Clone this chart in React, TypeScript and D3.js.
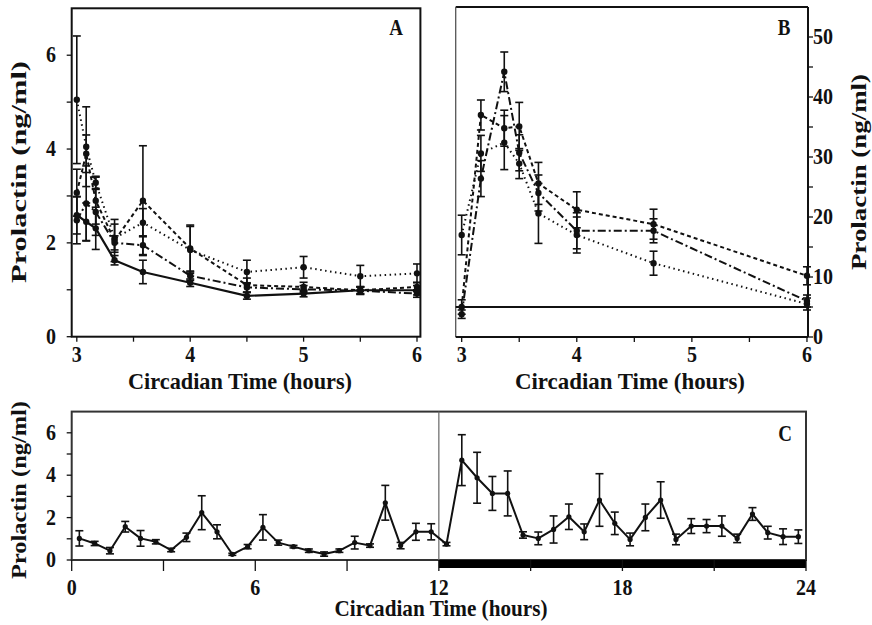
import React from "react";
import * as d3 from "d3";

// Panel A: early sampling (hours), four treatment groups
const hoursA = [3, 3.083, 3.167, 3.333, 3.583, 4, 4.5, 5, 5.5, 6];
const solidA = [2.59, 2.45, 2.31, 1.63, 1.38, 1.15, 0.87, 0.92, 0.99, 0.99];
const solidAErr = [0.4, 0.4, 0.45, 0.1, 0.25, 0.08, 0.07, 0.07, 0.07, 0.1];
const dashedA = [3.07, 3.9, 2.9, 2.05, 2.9, 1.88, 1.1, 1.06, 0.99, 1.06];
const dashedAErr = [0.5, 0.4, 0.5, 0.45, 1.17, 0.5, 0.15, 0.1, 0.08, 0.1];
const dashDotA = [2.48, 2.84, 2.66, 2.0, 1.95, 1.3, 1.05, 1.01, 0.98, 0.92];
const dashDotAErr = [0.5, 0.8, 0.5, 0.15, 0.2, 0.1, 0.1, 0.08, 0.08, 0.08];
const dottedA = [5.05, 4.05, 3.28, 2.1, 2.43, 1.85, 1.38, 1.48, 1.29, 1.35];
const dottedAErr = [1.36, 0.85, 0.14, 0.3, 0.3, 0.5, 0.25, 0.23, 0.23, 0.2];

// Panel B: stimulated response
const hoursB = [3.0, 3.167, 3.37, 3.5, 3.667, 4.0, 4.667, 6.0];
const dashedB = [5.0, 37.0, 34.8, 35.1, 25.6, 21.2, 18.8, 10.2];
const dashedBErr = [1.2, 2.5, 3.0, 4.0, 3.5, 3.0, 2.5, 1.5];
const dashDotB = [3.8, 26.4, 44.2, 30.7, 24.0, 17.7, 17.7, 6.0];
const dashDotBErr = [0.7, 3.0, 3.3, 3.0, 3.0, 3.0, 2.0, 1.0];
const dottedB = [17.0, 30.6, 32.4, 28.9, 20.6, 17.0, 12.3, 5.5];
const dottedBErr = [3.3, 3.0, 4.5, 2.5, 5.0, 3.0, 2.0, 1.0];
const baselineB = 5;

// Panel C: 24-hour profile
const hoursC = [
  0.25, 0.75, 1.25, 1.75, 2.25, 2.75, 3.25, 3.75, 4.25, 4.75, 5.25, 5.75,
  6.25, 6.75, 7.25, 7.75, 8.25, 8.75, 9.25, 9.75, 10.25, 10.75, 11.25, 11.75,
  12.25, 12.75, 13.25, 13.75, 14.25, 14.75, 15.25, 15.75, 16.25, 16.75, 17.25, 17.75,
  18.25, 18.75, 19.25, 19.75, 20.25, 20.75, 21.25, 21.75, 22.25, 22.75, 23.25, 23.75,
];
const valuesC = [
  1.02, 0.78, 0.44, 1.57, 1.02, 0.86, 0.47, 1.07, 2.23, 1.33, 0.27, 0.63,
  1.54, 0.82, 0.63, 0.44, 0.28, 0.44, 0.82, 0.68, 2.7, 0.68, 1.33, 1.33,
  0.75, 4.71, 3.88, 3.14, 3.14, 1.18, 1.02, 1.44, 2.04, 1.33, 2.83, 1.73,
  0.97, 2.01, 2.83, 0.97, 1.6, 1.6, 1.6, 1.02, 2.17, 1.29, 1.1, 1.1,
];
const errC = [
  0.36, 0.1, 0.15, 0.25, 0.37, 0.1, 0.08, 0.2, 0.8, 0.33, 0.05, 0.1,
  0.6, 0.12, 0.06, 0.08, 0.1, 0.08, 0.3, 0.08, 0.82, 0.15, 0.4, 0.38,
  0.08, 1.2, 1.2, 0.8, 1.06, 0.15, 0.3, 0.64, 0.6, 0.37, 1.24, 0.53,
  0.3, 0.63, 0.86, 0.25, 0.35, 0.31, 0.48, 0.2, 0.3, 0.3, 0.37, 0.32,
];

const ticksAX = [3, 3.5, 4, 4.5, 5, 5.5, 6];
const labelsAX = [3, 4, 5, 6];
const ticksAY = [0, 1, 2, 3, 4, 5, 6];
const labelsAY = [0, 2, 4, 6];
const ticksBY = [0, 5, 10, 15, 20, 25, 30, 35, 40, 45, 50];
const labelsBY = [0, 10, 20, 30, 40, 50];
const ticksCX = [0, 3, 6, 9, 12, 15, 18, 21, 24];
const labelsCX = [0, 6, 12, 18, 24];
const ticksCY = [0, 1, 2, 3, 4, 5, 6];
const labelsCY = [0, 2, 4, 6];

const FONT = "Liberation Serif";
const YTITLE = "Prolactin (ng/ml)";
const XTITLE = "Circadian Time (hours)";

const xA = d3.scaleLinear().domain([2.955, 6.03]).range([71.7, 420.4]);
const yA = d3.scaleLinear().domain([0, 7]).range([336.7, 8.3]);
const xB = d3.scaleLinear().domain([2.948, 6.009]).range([455.7, 808]);
const yB = d3.scaleLinear().domain([0, 55]).range([337, 7]);
const xC = d3.scaleLinear().domain([0, 24]).range([71.7, 806]);
const yC = d3.scaleLinear().domain([0, 7]).range([560, 411.6]);

type Scale = d3.ScaleLinear<number, number>;

function Series({
  xs, ys, es, x, y, dash, width = 2, r = 3.2, cap = 4,
}: {
  xs: number[]; ys: number[]; es: number[]; x: Scale; y: Scale;
  dash?: string; width?: number; r?: number; cap?: number;
}) {
  const pts = xs.map((t, i) => [t, ys[i]] as [number, number]);
  const line = d3.line<[number, number]>().x((d) => x(d[0])).y((d) => y(d[1]));
  return (
    <g>
      <path d={line(pts) || ""} fill="none" stroke="#111" strokeWidth={width}
        strokeDasharray={dash} strokeLinejoin="round" />
      {pts.map((d, i) => {
        const cx = x(d[0]);
        const top = y(d[1] + es[i]);
        const bot = y(Math.max(0, d[1] - es[i]));
        return (
          <g key={i} stroke="#111" strokeWidth={1.6}>
            <line x1={cx} x2={cx} y1={top} y2={bot} />
            <line x1={cx - cap} x2={cx + cap} y1={top} y2={top} />
            <line x1={cx - cap} x2={cx + cap} y1={bot} y2={bot} />
            <circle cx={cx} cy={y(d[1])} r={r} fill="#111" stroke="none" />
          </g>
        );
      })}
    </g>
  );
}

// Bold serif label, drawn slightly taller than wide
function Label({ x, y, children, size = 20, anchor = "middle" }: any) {
  return (
    <text transform={`translate(${x},${y}) scale(1,1.2)`} style={{ fontFamily: FONT }}
      fontWeight="bold" fontSize={size} textAnchor={anchor} fill="#111">{children}</text>
  );
}

function Title({ x, y, text, len, size = 23, rotate = 0 }: any) {
  return (
    <text transform={`translate(${x},${y}) rotate(${rotate})`} style={{ fontFamily: FONT }}
      fontWeight="bold" fontSize={size} textAnchor="middle" fill="#111"
      textLength={len} lengthAdjust="spacingAndGlyphs">{text}</text>
  );
}

export default function App() {
  return (
    <svg width={872} height={625} style={{ position: "absolute", left: 0, top: 0, background: "#fff" }}>
      {/* Panel A */}
      <g>
        <rect x={xA.range()[0]} y={yA.range()[1]} width={xA.range()[1] - xA.range()[0]}
          height={yA.range()[0] - yA.range()[1]} fill="none" stroke="#111" strokeWidth={2} />
        {ticksAX.map((t) => (
          <line key={t} x1={xA(t)} x2={xA(t)} y1={yA(0)} y2={yA(0) + 5} stroke="#111" strokeWidth={1.3} />
        ))}
        {ticksAY.map((t) => (
          <line key={t} x1={xA.range()[0] - 5} x2={xA.range()[0]} y1={yA(t)} y2={yA(t)} stroke="#111" strokeWidth={1.3} />
        ))}
        {labelsAX.map((t) => <Label key={t} x={xA(t)} y={362}>{t}</Label>)}
        {labelsAY.map((t) => <Label key={t} x={56} y={yA(t) + 7} anchor="end">{t}</Label>)}
        <Series xs={hoursA} ys={dottedA} es={dottedAErr} x={xA} y={yA} dash="1.5 3.5" />
        <Series xs={hoursA} ys={dashedA} es={dashedAErr} x={xA} y={yA} dash="4 3" />
        <Series xs={hoursA} ys={dashDotA} es={dashDotAErr} x={xA} y={yA} dash="8 3 2 3" />
        <Series xs={hoursA} ys={solidA} es={solidAErr} x={xA} y={yA} width={2.2} />
        <Label x={396} y={35} size={19}>A</Label>
        <Title x={240} y={389} text={XTITLE} len={224} />
        <Title x={26} y={172} text={YTITLE} len={222} rotate={-90} size={22} />
      </g>

      {/* Panel B */}
      <g>
        <line x1={xB.range()[0]} x2={xB.range()[1]} y1={yB.range()[1]} y2={yB.range()[1]} stroke="#111" strokeWidth={2} />
        <line x1={xB.range()[0]} x2={xB.range()[0]} y1={yB.range()[1]} y2={yB(0)} stroke="#555" strokeWidth={1.3} />
        <line x1={xB.range()[0]} x2={xB.range()[1]} y1={yB(0)} y2={yB(0)} stroke="#111" strokeWidth={2} />
        <line x1={xB.range()[1]} x2={xB.range()[1]} y1={yB.range()[1]} y2={yB(0)} stroke="#111" strokeWidth={2} />
        {ticksAX.map((t) => (
          <line key={t} x1={xB(t)} x2={xB(t)} y1={yB(0)} y2={yB(0) + 5} stroke="#111" strokeWidth={1.3} />
        ))}
        {ticksBY.map((t) => (
          <line key={t} x1={xB.range()[1]} x2={xB.range()[1] + 5} y1={yB(t)} y2={yB(t)} stroke="#111" strokeWidth={1.3} />
        ))}
        {labelsAX.map((t) => <Label key={t} x={xB(t)} y={362}>{t}</Label>)}
        {labelsBY.map((t) => <Label key={t} x={813} y={yB(t) + 7} anchor="start">{t}</Label>)}
        <line x1={xB.range()[0]} x2={xB.range()[1]} y1={yB(baselineB)} y2={yB(baselineB)} stroke="#111" strokeWidth={2} />
        <Series xs={hoursB} ys={dottedB} es={dottedBErr} x={xB} y={yB} dash="1.5 3.5" />
        <Series xs={hoursB} ys={dashedB} es={dashedBErr} x={xB} y={yB} dash="4 3" />
        <Series xs={hoursB} ys={dashDotB} es={dashDotBErr} x={xB} y={yB} dash="8 3 2 3" />
        <Label x={784} y={35} size={19}>B</Label>
        <Title x={630} y={389} text={XTITLE} len={230} />
        <Title x={866} y={172} text={YTITLE} len={196} rotate={-90} size={22} />
      </g>

      {/* Panel C */}
      <g>
        <rect x={xC.range()[0]} y={yC.range()[1]} width={xC.range()[1] - xC.range()[0]}
          height={yC.range()[0] - yC.range()[1]} fill="none" stroke="#333" strokeWidth={2} />
        <line x1={xC(12)} x2={xC(12)} y1={yC.range()[1]} y2={yC(0)} stroke="#666" strokeWidth={1.2} />
        <rect x={xC(12)} y={yC(0)} width={xC(24) - xC(12)} height={8} fill="#000" />
        {ticksCX.map((t) => (
          <line key={t} x1={xC(t)} x2={xC(t)} y1={yC(0)} y2={yC(0) + 11} stroke="#111" strokeWidth={1.3} />
        ))}
        {ticksCY.map((t) => (
          <line key={t} x1={xC.range()[0] - 5} x2={xC.range()[0]} y1={yC(t)} y2={yC(t)} stroke="#111" strokeWidth={1.3} />
        ))}
        {labelsCX.map((t) => <Label key={t} x={xC(t)} y={595}>{t}</Label>)}
        {labelsCY.map((t) => <Label key={t} x={56} y={yC(t) + 7} anchor="end">{t}</Label>)}
        <Series xs={hoursC} ys={valuesC} es={errC} x={xC} y={yC} r={2.6} cap={4} />
        <Label x={785} y={441} size={19}>C</Label>
        <Title x={441} y={616} text={XTITLE} len={213} />
        <Title x={26} y={490} text={YTITLE} len={178} rotate={-90} size={22} />
      </g>
    </svg>
  );
}
